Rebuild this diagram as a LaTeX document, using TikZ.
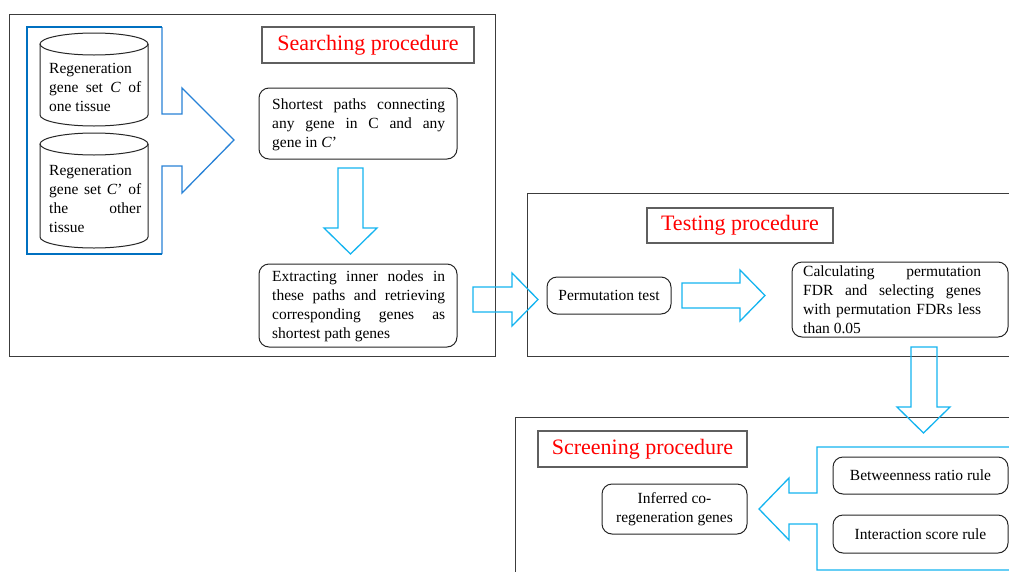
\documentclass[tikz,border=0pt]{standalone}
\usepackage{fontspec}
\setmainfont{Liberation Serif}
\definecolor{cyanarrow}{RGB}{20,180,240}
\definecolor{framedark}{RGB}{0,112,192}
\definecolor{framemid}{RGB}{40,130,215}
\definecolor{boxgray}{RGB}{60,60,60}
\definecolor{titlegray}{RGB}{95,95,95}
\newcommand\bodyfont{\fontsize{15.5}{19}\selectfont}
\newcommand\titlefont{\fontsize{22}{26}\selectfont}
\newcommand\jline[2]{\makebox[#1][s]{#2}}
\tikzset{
  outer/.style={draw=boxgray, line width=1.3pt, inner sep=0pt, anchor=north west},
  titlebox/.style={draw=titlegray, line width=1.2pt, fill=white, text=red, font=\titlefont, inner sep=0pt},
  rbox/.style={draw=black!85, line width=1pt, rounded corners=10pt, inner sep=0pt, font=\bodyfont, align=center},
  txt/.style={inner sep=0pt, align=left, font=\bodyfont},
  blockarrow/.style={draw=cyanarrow, line width=1.3pt, line join=miter},
  cyl/.style={draw=black!85, line width=1pt},
}
\begin{document}
\begin{tikzpicture}[x=1pt,y=1pt]
\useasboundingbox (0,0) rectangle (1009,-571);
\clip (0,0) rectangle (1009,-571);
\fill[white] (0,0) rectangle (1009,-571);

% outer procedure boxes
\node[outer, minimum width=486pt, minimum height=342pt] (searchbox) at (9,-14) {};
\node[outer, minimum width=520pt, minimum height=163pt] (testbox) at (527,-193) {};
\node[outer, minimum width=520pt, minimum height=180pt] (screenbox) at (515,-417) {};

% input frame with arrow
\draw[draw=framemid, line width=1.3pt, line join=miter]
  (162,-27) -- (162,-114) -- (182,-114) -- (182,-88) -- (234,-140) -- (182,-193) -- (182,-166) -- (162,-166) -- (162,-254);
\draw[draw=framedark, line width=2pt, line join=miter]
  (162,-27) -- (27,-27) -- (27,-254) -- (162,-254);

% cylinders
\draw[cyl] (94,-44) ellipse [x radius=54pt, y radius=11pt];
\draw[cyl] (40,-44) -- (40,-115) arc[start angle=180, end angle=360, x radius=54pt, y radius=11pt] -- (148,-44);
\draw[cyl] (94,-144) ellipse [x radius=54pt, y radius=11pt];
\draw[cyl] (40,-144) -- (40,-237) arc[start angle=180, end angle=360, x radius=54pt, y radius=11pt] -- (148,-144);
\node[txt, anchor=west] (cylA) at (49,-87) {Regeneration\\ \jline{92pt}{gene set \textit{C} of}\\ one tissue};
\node[txt, anchor=west] (cylB) at (49,-199) {Regeneration\\ \jline{92pt}{gene set \textit{C}' of}\\ \jline{92pt}{the other}\\ tissue};

% titles
\node[titlebox, minimum width=212pt, minimum height=36pt] (searchtitle) at (368,-45) {Searching procedure};
\node[titlebox, minimum width=186pt, minimum height=35pt] (testtitle) at (740,-225.5) {Testing procedure};
\node[titlebox, minimum width=209pt, minimum height=36pt] (screentitle) at (642.5,-449) {Screening procedure};

% searching procedure boxes
\node[rbox, minimum width=198pt, minimum height=71pt] (short) at (358,-123.5) {};
\node[txt, anchor=west] (shorttxt) at (272,-124.5) {\jline{173pt}{Shortest paths connecting}\\ \jline{173pt}{any gene in C and any}\\ gene in \textit{C}'};
\node[rbox, minimum width=198pt, minimum height=83pt] (extract) at (358,-305.5) {};
\node[txt, anchor=west] (extracttxt) at (272,-306) {\jline{173pt}{Extracting inner nodes in}\\ \jline{173pt}{these paths and retrieving}\\ \jline{173pt}{corresponding genes as}\\ shortest path genes};

% testing procedure boxes
\node[rbox, minimum width=124pt, minimum height=37pt] (perm) at (609,-295.5) {Permutation test};
\node[rbox, minimum width=216pt, minimum height=75pt] (calc) at (900,-299.5) {};
\node[txt, anchor=west] (calctxt) at (803,-299.5) {\jline{178pt}{Calculating permutation}\\ \jline{178pt}{FDR and selecting genes}\\ \jline{178pt}{with permutation FDRs less}\\ than 0.05};

% screening procedure boxes
\node[rbox, minimum width=145pt, minimum height=50pt] (inferred) at (674.5,-509) {Inferred co-\\regeneration genes};
\node[rbox, minimum width=175pt, minimum height=37pt] (betw) at (920.5,-475.5) {Betweenness ratio rule};
\node[rbox, minimum width=175pt, minimum height=38pt] (inter) at (920.5,-534) {Interaction score rule};

% screening frame with arrow
\draw[blockarrow] (1020,-447) -- (817,-447) -- (817,-493) -- (789,-493) -- (789,-478) -- (759,-509) -- (789,-540) -- (789,-524) -- (817,-524) -- (817,-570) -- (1020,-570);

% block arrows
\draw[blockarrow] (338,-168) -- (363,-168) -- (363,-228) -- (377,-228) -- (350.5,-254) -- (324,-228) -- (338,-228) -- cycle;
\draw[blockarrow] (473,-287) -- (512,-287) -- (512,-273) -- (538,-299.5) -- (512,-326) -- (512,-312) -- (473,-312) -- cycle;
\draw[blockarrow] (682,-283) -- (740,-283) -- (740,-270) -- (765,-295.5) -- (740,-321) -- (740,-308) -- (682,-308) -- cycle;
\draw[blockarrow] (911,-347) -- (937,-347) -- (937,-407) -- (950,-407) -- (923.5,-433) -- (897,-407) -- (911,-407) -- cycle;
\end{tikzpicture}
\end{document}
